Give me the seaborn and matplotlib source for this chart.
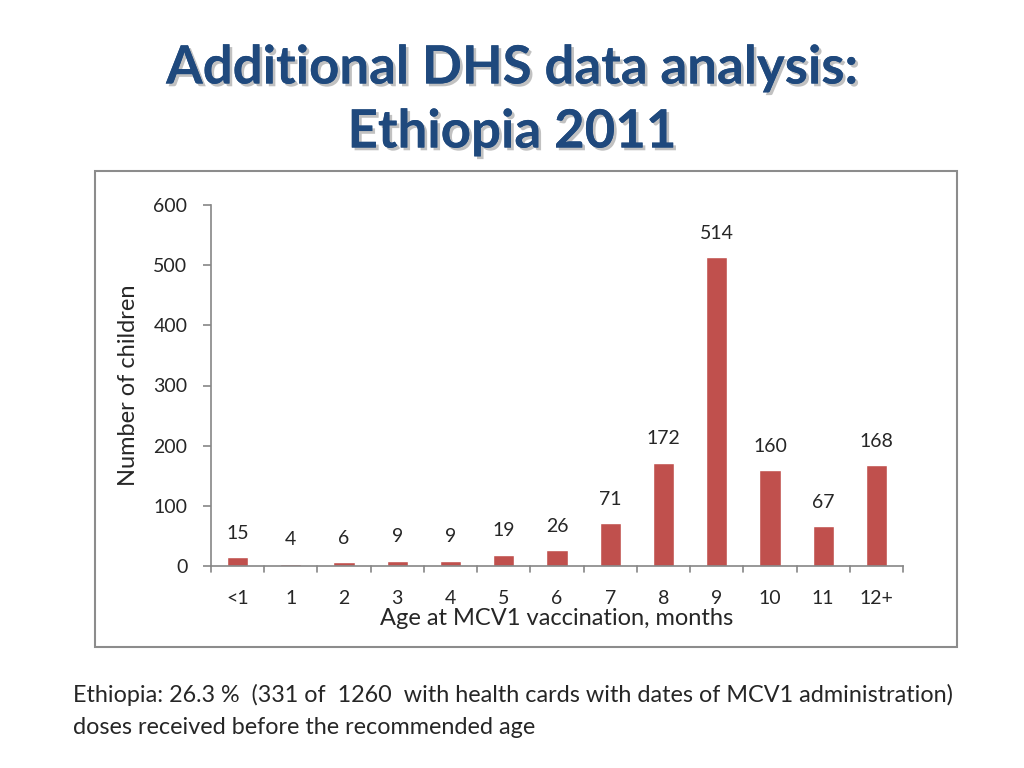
import matplotlib
matplotlib.use("Agg")
import matplotlib.pyplot as plt
import matplotlib.patheffects as pe
from matplotlib.patches import Rectangle
import seaborn as sns
import pandas as pd

categories = ["<1", "1", "2", "3", "4", "5", "6", "7", "8", "9", "10", "11", "12+"]
counts = [15, 4, 6, 9, 9, 19, 26, 71, 172, 514, 160, 67, 168]
yticks = [0, 100, 200, 300, 400, 500, 600]

sns.set_theme(style="white")
plt.rcParams['font.family'] = ['Lato', 'DejaVu Sans']

W, H = 1024, 768
fig = plt.figure(figsize=(W/100, H/100), dpi=100)

def fx(x): return x / W
def fy(y): return 1 - y / H

# chart frame
fig.patches.append(Rectangle((fx(95), fy(647)), fx(957) - fx(95), fy(171) - fy(647),
                             transform=fig.transFigure, fill=False, edgecolor="#8c8c8c", lw=1.5))

ax = fig.add_axes([fx(211), fy(566), fx(903) - fx(211), fy(205) - fy(566)])
df = pd.DataFrame({"age": categories, "n": counts})
sns.barplot(data=df, x="age", y="n", color="#C0504D", saturation=1, width=0.4, ax=ax)
ax.set_ylim(0, 600)
ax.set_xlim(-0.5, len(categories) - 0.5)
ax.set_yticks(yticks)
ax.set_yticklabels([str(v) for v in yticks])
for side in ["top", "right"]:
    ax.spines[side].set_visible(False)
for side in ["left", "bottom"]:
    ax.spines[side].set_color("#868686")
    ax.spines[side].set_linewidth(1.2)
ax.tick_params(axis="y", length=6, width=1.2, color="#868686", labelsize=14, pad=11, left=True)
ax.tick_params(axis="x", length=0, labelsize=14, pad=17)
ax.set_xticks(range(len(categories)))
# boundary ticks on x axis
for b in [i - 0.5 for i in range(len(categories) + 1)]:
    ax.plot([b, b], [0, -0.017], transform=ax.get_xaxis_transform(), color="#868686", lw=1.2, clip_on=False)
ax.set_xlabel("Age at MCV1 vaccination, months", fontsize=17, labelpad=1)
ax.set_ylabel("Number of children", fontsize=17, labelpad=10)
ax.grid(False)

for i, v in enumerate(counts):
    ax.annotate(str(v), (i, v), xytext=(0, 17), textcoords="offset points",
                ha="center", va="center", fontsize=14)

shadow = [pe.withSimplePatchShadow(offset=(2, -2), shadow_rgbFace="#999999", alpha=0.6), pe.Normal()]
fig.text(0.5, fy(68), "Additional DHS data analysis:", ha="center", va="center",
         fontsize=38, fontweight="bold", color="#1F497D", path_effects=shadow)
fig.text(0.5, fy(132), "Ethiopia 2011", ha="center", va="center",
         fontsize=38, fontweight="bold", color="#1F497D", path_effects=shadow)

fig.text(fx(73), fy(695), "Ethiopia: 26.3 %  (331 of  1260  with health cards with dates of MCV1 administration)",
         ha="left", va="center", fontsize=16.8)
fig.text(fx(73), fy(727), "doses received before the recommended age", ha="left", va="center", fontsize=16.8)

fig.savefig("out.png", dpi=100)
